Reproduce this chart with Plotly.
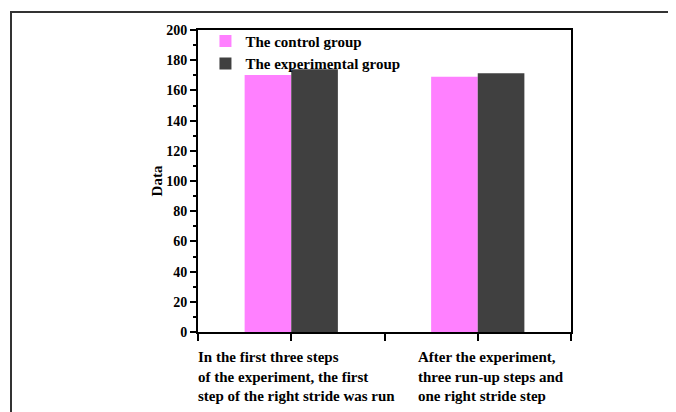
import plotly.graph_objects as go

# ---- data ----
categories = [
    "In the first three steps<br>of the experiment, the first<br>step of the right stride was run",
    "After the experiment,<br>three run-up steps and<br>one right stride step",
]
series_names = ["The control group", "The experimental group"]
control_values = [170.2, 169.1]
experimental_values = [174.0, 171.3]
y_ticks = [0, 20, 40, 60, 80, 100, 120, 140, 160, 180, 200]

# ---- style ----
FONT = "Liberation Serif"
colors = ["#FF80FF", "#404040"]
label_left = [0.5, 1.685]  # left edge of each category label block (x data units)
label_shift = [-2, -3]     # fine pixel shift for the label blocks

xpos = list(range(1, len(categories) + 1))

fig = go.Figure()
for name, vals, col in zip(series_names, [control_values, experimental_values], colors):
    fig.add_trace(go.Bar(
        x=xpos, y=vals, name=name,
        marker=dict(color=col, line=dict(width=0)),
    ))

fig.update_layout(
    width=676, height=412,
    margin=dict(l=190, r=113, t=22, b=88),
    paper_bgcolor="white", plot_bgcolor="white",
    barmode="group", bargap=0.5, bargroupgap=0,
    font=dict(family=FONT, size=13, color="black"),
    showlegend=True,
    legend=dict(
        x=0.02, y=1.017, xanchor="left", yanchor="top",
        bgcolor="rgba(0,0,0,0)", borderwidth=0,
        font=dict(family=FONT, size=15, color="black", weight="bold"),
        tracegroupgap=0, itemwidth=30,
    ),
)

fig.update_xaxes(
    range=[0.5, 2.5],
    tickvals=[0.5, 1, 1.5, 2, 2.5], ticktext=["", "", "", "", ""],
    ticks="outside", ticklen=7, tickwidth=2, tickcolor="black",
    showline=True, linecolor="black", linewidth=2, mirror=True,
    showgrid=False, zeroline=False,
)
fig.update_yaxes(
    range=[0, 200],
    tickvals=y_ticks, ticktext=[str(v) for v in y_ticks],
    ticks="outside", ticklen=6, tickwidth=1.5, tickcolor="black",
    minor=dict(dtick=10, ticks="outside", ticklen=3, tickwidth=1.5, tickcolor="black"),
    showline=True, linecolor="black", linewidth=2, mirror=True,
    showgrid=False, zeroline=False,
    tickfont=dict(family=FONT, size=14, color="black", weight="bold"),
    title=dict(text="Data", font=dict(family=FONT, size=15, color="black", weight="bold"), standoff=0),
)

for cat, xl, xs in zip(categories, label_left, label_shift):
    fig.add_annotation(
        x=xl, y=-0.05, xref="x", yref="paper", xshift=xs,
        text=cat, showarrow=False, xanchor="left", yanchor="top", align="left",
        font=dict(family=FONT, size=15, color="black", weight="bold"),
    )

# outer frame (cropped figure border)
fig.add_shape(
    type="rect", xref="paper", yref="paper",
    x0=(11 - 198) / 373, x1=1.35, y0=-0.35, y1=(332 - 12) / 302,
    line=dict(color="#333333", width=2), fillcolor="rgba(0,0,0,0)", layer="below",
)

fig.write_html("out.html")
